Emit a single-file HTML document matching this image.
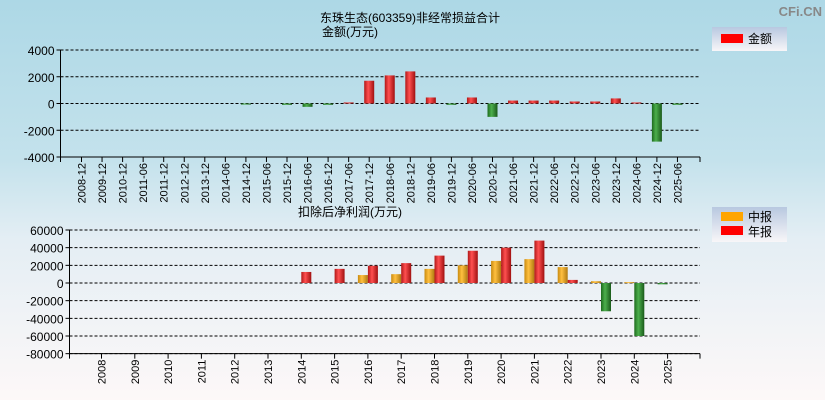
<!DOCTYPE html>
<html><head><meta charset="utf-8"><style>
body{margin:0;width:825px;height:400px;overflow:hidden;background:linear-gradient(#add8e6 0%,#c4e2ec 40%,#e4eef4 60%,#fdf8f8 100%);font-family:"Liberation Sans","Noto Sans CJK SC",sans-serif;}
svg{position:absolute;left:0;top:0}
</style></head><body>
<svg width="825" height="400" xmlns="http://www.w3.org/2000/svg">
<defs>
<linearGradient id="gr" x1="0" x2="1"><stop offset="0" stop-color="#b01818"/><stop offset="0.4" stop-color="#ff5050"/><stop offset="1" stop-color="#a01010"/></linearGradient>
<linearGradient id="gg" x1="0" x2="1"><stop offset="0" stop-color="#1d6a1d"/><stop offset="0.4" stop-color="#4caf4c"/><stop offset="1" stop-color="#1a5a1a"/></linearGradient>
<linearGradient id="go" x1="0" x2="1"><stop offset="0" stop-color="#c88a10"/><stop offset="0.4" stop-color="#ffc040"/><stop offset="1" stop-color="#b07a10"/></linearGradient>
<linearGradient id="lg" x1="0" y1="0" x2="0" y2="1"><stop offset="0" stop-color="#b8c8e0"/><stop offset="1" stop-color="#f8f6f8"/></linearGradient>
</defs>
<text x="822" y="16" font-size="13" fill="#888" font-weight="bold" text-anchor="end">CFi.CN</text>
<text x="410" y="22" font-size="12" text-anchor="middle">东珠生态(603359)非经常损益合计</text>
<text x="350" y="36" font-size="12" text-anchor="middle">金额(万元)</text>
<g><rect x="712" y="27" width="75" height="24" fill="url(#lg)"/><rect x="721" y="34" width="22" height="9" fill="#f00"/><text x="748" y="43" font-size="12">金额</text></g>
<text x="350" y="216" font-size="12" text-anchor="middle">扣除后净利润(万元)</text>
<g><rect x="712" y="207" width="75" height="35" fill="url(#lg)"/><rect x="721" y="212" width="22" height="9" fill="#ffa500"/><text x="748" y="221" font-size="12">中报</text><rect x="721" y="226" width="22" height="9" fill="#f00"/><text x="748" y="236" font-size="12">年报</text></g>
<g id="top"></g><g id="bot"></g>
</svg>
<script>
const topCats=["2008-12","2009-12","2010-12","2011-06","2011-12","2012-12","2013-12","2014-06","2014-12","2015-06","2015-12","2016-06","2016-12","2017-06","2017-12","2018-06","2018-12","2019-06","2019-12","2020-06","2020-12","2021-06","2021-12","2022-06","2022-12","2023-06","2023-12","2024-06","2024-12","2025-06"];
const topVals=[0,0,0,0,0,0,0,0,-80,0,-100,-250,-100,80,1700,2100,2400,450,-100,450,-1000,220,220,220,150,150,380,80,-2850,-100];
const topTicks=[4000,2000,0,-2000,-4000];
const botCats=["2008","2009","2010","2011","2012","2013","2014","2015","2016","2017","2018","2019","2020","2021","2022","2023","2024","2025"];
const midVals=[0,0,0,0,0,0,0,0,9000,10000,16000,20000,25000,27000,18000,2000,1000,-1500];
const annVals=[0,0,0,0,0,0,12500,16000,19500,22500,31000,36500,40000,48000,3500,-32000,-60000,0];
const botTicks=[60000,40000,20000,0,-20000,-40000,-60000,-80000];
const NS="http://www.w3.org/2000/svg";
function mk(p,t,a){const e=document.createElementNS(NS,t);for(const k in a)e.setAttribute(k,a[k]);p.appendChild(e);return e;}
function axes(g,x0,x1,yf,ticks,cats,xf,name){
  ticks.forEach(t=>{const y=yf(t);
    const l=mk(g,'line',{x1:x0,x2:x1,y1:y,y2:y,stroke:'#000','stroke-dasharray':'3,2','stroke-width':1});
    
    mk(g,'line',{x1:x0-4,x2:x0,y1:y,y2:y,stroke:'#000'});
    const tx=mk(g,'text',{x:x0-6,y:y+5,'font-size':12,'text-anchor':'end'});tx.textContent=t;
    });
  const yb=yf(ticks[ticks.length-1]);
  mk(g,'line',{x1:x0,x2:x0,y1:yf(ticks[0]),y2:yb,stroke:'#000'});
  mk(g,'line',{x1:x0,x2:x1,y1:yb,y2:yb,stroke:'#000'});
  mk(g,'line',{x1:x0,x2:x0,y1:yb,y2:yb+5,stroke:'#000'});
  mk(g,'line',{x1:x1,x2:x1,y1:yb,y2:yb+5,stroke:'#000'});
  const ly=yb+6;
  cats.forEach((c,i)=>{const x=xf(i);
    mk(g,'line',{x1:x,x2:x,y1:yb,y2:yb+5,stroke:'#000'});
    const tx=mk(g,'text',{x:x+4,y:ly,'font-size':11,'text-anchor':'end',transform:`rotate(-90 ${x+4} ${ly})`});tx.textContent=c;
    });
}
function bar(g,x,w,v,yf,fill,name){
  if(!v)return;const y0=yf(0),y=yf(v);
  const r=mk(g,'rect',{x:x,y:Math.min(y0,y),width:w,height:Math.max(1,Math.abs(y-y0)),fill:v<0?'url(#gg)':fill});
  
}
const gt=document.getElementById('top');
const tyf=v=>103.5-v*53.5/4000;
const txf=i=>81.5+i*20.55;
axes(gt,60.5,700,tyf,topTicks,topCats,txf,'top');
topCats.forEach((c,i)=>bar(gt,txf(i)-5,10,topVals[i],tyf,'url(#gr)','top-bar-'+c));
const gb=document.getElementById('bot');
const byf=v=>283-v*53/60000;
const bxf=i=>101.5+i*33.3;
axes(gb,69.5,700,byf,botTicks,botCats,bxf,'bottom');
botCats.forEach((c,i)=>{bar(gb,bxf(i)-10,10,midVals[i],byf,'url(#go)','mid-bar-'+c);bar(gb,bxf(i),10,annVals[i],byf,'url(#gr)','annual-bar-'+c);});
</script>
</body></html>
